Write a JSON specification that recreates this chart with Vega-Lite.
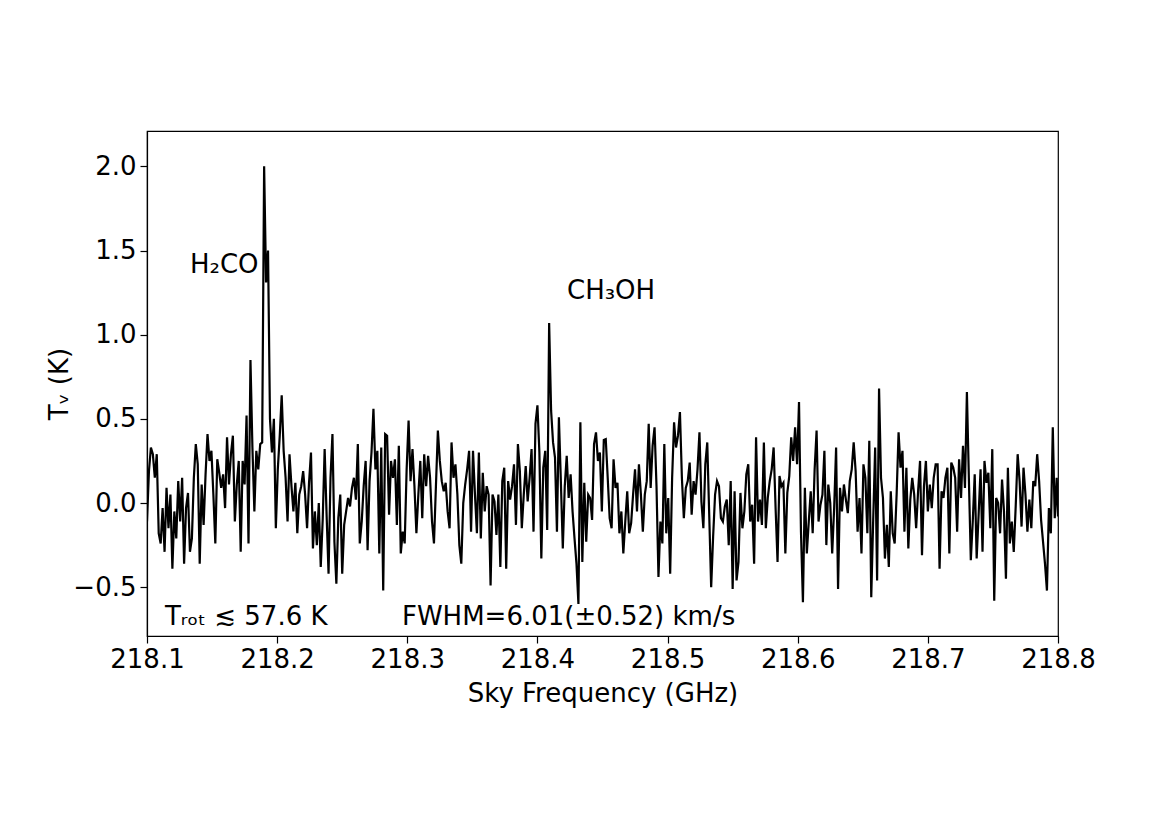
{
  "$schema": "https://vega.github.io/schema/vega-lite/v6.json",
  "width": 911,
  "height": 505,
  "autosize": {"type": "none"},
  "padding": {"left": 147, "top": 131, "right": 117, "bottom": 195},
  "background": "white",
  "config": {
    "font": "DejaVu Sans",
    "view": {"stroke": "black", "strokeWidth": 1.2},
    "axis": {
      "grid": false,
      "domainColor": "black",
      "domainWidth": 1.2,
      "tickColor": "black",
      "tickWidth": 1.2,
      "tickSize": 7,
      "labelColor": "black",
      "labelFont": "DejaVu Sans",
      "labelFontSize": 26,
      "titleFont": "DejaVu Sans",
      "titleFontSize": 26,
      "titleFontWeight": "normal",
      "titleColor": "black",
      "labelFlush": false,
      "labelOverlap": false,
      "labelBound": false
    }
  },
  "datasets": {
    "spec": [
{"f":218.1,"t":-0.11},{"f":218.1015,"t":0.19},{"f":218.103,"t":0.33},{"f":218.1045,"t":0.29},{"f":218.106,"t":0.15},{"f":218.1075,"t":0.29},{"f":218.109,"t":-0.18},{"f":218.1105,"t":-0.24},{"f":218.112,"t":-0.03},{"f":218.1135,"t":-0.29},
{"f":218.115,"t":0.09},{"f":218.1165,"t":-0.15},{"f":218.118,"t":0.05},{"f":218.1195,"t":-0.39},{"f":218.121,"t":-0.05},{"f":218.1225,"t":-0.21},{"f":218.124,"t":0.13},{"f":218.1255,"t":-0.11},{"f":218.127,"t":0.15},{"f":218.1285,"t":-0.36},
{"f":218.13,"t":-0.03},{"f":218.1315,"t":0.06},{"f":218.133,"t":-0.29},{"f":218.1345,"t":-0.21},{"f":218.136,"t":0.15},{"f":218.1375,"t":0.35},{"f":218.139,"t":0.23},{"f":218.1405,"t":-0.36},{"f":218.142,"t":0.11},{"f":218.1435,"t":-0.13},
{"f":218.145,"t":0.17},{"f":218.1465,"t":0.41},{"f":218.148,"t":0.25},{"f":218.1495,"t":0.31},{"f":218.151,"t":0.05},{"f":218.1525,"t":-0.24},{"f":218.154,"t":0.26},{"f":218.1555,"t":0.18},{"f":218.157,"t":0.09},{"f":218.1585,"t":0.17},
{"f":218.16,"t":-0.03},{"f":218.1615,"t":0.39},{"f":218.163,"t":0.11},{"f":218.1645,"t":0.29},{"f":218.166,"t":0.40},{"f":218.1675,"t":-0.11},{"f":218.169,"t":0.11},{"f":218.1705,"t":0.25},{"f":218.172,"t":-0.29},{"f":218.1735,"t":0.25},
{"f":218.175,"t":0.11},{"f":218.1765,"t":0.52},{"f":218.178,"t":-0.24},{"f":218.1795,"t":0.85},{"f":218.181,"t":0.33},{"f":218.1825,"t":-0.05},{"f":218.184,"t":0.31},{"f":218.1855,"t":0.20},{"f":218.187,"t":0.35},{"f":218.1885,"t":0.36},
{"f":218.19,"t":2.0},{"f":218.1915,"t":1.31},{"f":218.193,"t":1.5},{"f":218.1945,"t":0.50},{"f":218.196,"t":0.30},{"f":218.1975,"t":0.50},{"f":218.199,"t":-0.15},{"f":218.2005,"t":0.20},{"f":218.202,"t":0.40},{"f":218.2035,"t":0.64},
{"f":218.205,"t":0.31},{"f":218.2065,"t":0.15},{"f":218.208,"t":-0.11},{"f":218.2095,"t":0.29},{"f":218.211,"t":0.10},{"f":218.2125,"t":-0.05},{"f":218.214,"t":0.12},{"f":218.2155,"t":-0.18},{"f":218.217,"t":0.05},{"f":218.2185,"t":0.10},
{"f":218.22,"t":0.19},{"f":218.2215,"t":0.05},{"f":218.223,"t":-0.15},{"f":218.2245,"t":0.12},{"f":218.226,"t":0.30},{"f":218.2275,"t":-0.27},{"f":218.229,"t":-0.05},{"f":218.2305,"t":-0.25},{"f":218.232,"t":0.0},{"f":218.2335,"t":-0.38},
{"f":218.235,"t":-0.10},{"f":218.2365,"t":0.32},{"f":218.238,"t":-0.07},{"f":218.2395,"t":-0.42},{"f":218.241,"t":0.15},{"f":218.2425,"t":0.41},{"f":218.244,"t":-0.23},{"f":218.2455,"t":-0.48},{"f":218.247,"t":-0.09},{"f":218.2485,"t":0.05},
{"f":218.25,"t":-0.42},{"f":218.2515,"t":-0.13},{"f":218.253,"t":-0.05},{"f":218.2545,"t":0.03},{"f":218.256,"t":-0.02},{"f":218.2575,"t":0.09},{"f":218.259,"t":0.15},{"f":218.2605,"t":0.02},{"f":218.262,"t":0.35},{"f":218.2635,"t":-0.24},
{"f":218.265,"t":-0.11},{"f":218.2665,"t":0.10},{"f":218.268,"t":0.25},{"f":218.2695,"t":-0.28},{"f":218.271,"t":0.13},{"f":218.2725,"t":0.30},{"f":218.274,"t":0.56},{"f":218.2755,"t":0.20},{"f":218.277,"t":0.31},{"f":218.2785,"t":-0.30},
{"f":218.28,"t":0.33},{"f":218.2815,"t":-0.52},{"f":218.283,"t":0.41},{"f":218.2845,"t":0.40},{"f":218.286,"t":-0.07},{"f":218.2875,"t":0.25},{"f":218.289,"t":0.15},{"f":218.2905,"t":0.26},{"f":218.292,"t":-0.13},{"f":218.2935,"t":0.34},
{"f":218.295,"t":-0.30},{"f":218.2965,"t":-0.17},{"f":218.298,"t":-0.24},{"f":218.2995,"t":0.20},{"f":218.301,"t":0.49},{"f":218.3025,"t":0.13},{"f":218.304,"t":0.32},{"f":218.3055,"t":0.10},{"f":218.307,"t":-0.18},{"f":218.3085,"t":0.05},
{"f":218.31,"t":0.25},{"f":218.3115,"t":-0.09},{"f":218.313,"t":0.29},{"f":218.3145,"t":0.10},{"f":218.316,"t":0.28},{"f":218.3175,"t":0.15},{"f":218.319,"t":-0.11},{"f":218.3205,"t":-0.24},{"f":218.322,"t":0.10},{"f":218.3235,"t":0.43},
{"f":218.325,"t":0.25},{"f":218.3265,"t":0.13},{"f":218.328,"t":0.07},{"f":218.3295,"t":0.12},{"f":218.331,"t":-0.05},{"f":218.3325,"t":-0.15},{"f":218.334,"t":0.36},{"f":218.3355,"t":0.15},{"f":218.337,"t":0.23},{"f":218.3385,"t":0.05},
{"f":218.34,"t":-0.25},{"f":218.3415,"t":-0.36},{"f":218.343,"t":0.0},{"f":218.3445,"t":0.11},{"f":218.346,"t":0.20},{"f":218.3475,"t":0.31},{"f":218.349,"t":-0.17},{"f":218.3505,"t":0.31},{"f":218.352,"t":0.05},{"f":218.3535,"t":-0.18},
{"f":218.355,"t":0.30},{"f":218.3565,"t":-0.21},{"f":218.358,"t":0.18},{"f":218.3595,"t":-0.05},{"f":218.361,"t":0.10},{"f":218.3625,"t":0.05},{"f":218.364,"t":-0.49},{"f":218.3655,"t":0.05},{"f":218.367,"t":0.01},{"f":218.3685,"t":-0.19},
{"f":218.37,"t":0.05},{"f":218.3715,"t":-0.38},{"f":218.373,"t":0.13},{"f":218.3745,"t":0.21},{"f":218.376,"t":-0.39},{"f":218.3775,"t":0.13},{"f":218.379,"t":0.02},{"f":218.3805,"t":0.10},{"f":218.382,"t":0.23},{"f":218.3835,"t":-0.13},
{"f":218.385,"t":0.35},{"f":218.3865,"t":0.19},{"f":218.388,"t":-0.15},{"f":218.3895,"t":0.05},{"f":218.391,"t":0.22},{"f":218.3925,"t":0.01},{"f":218.394,"t":0.15},{"f":218.3955,"t":0.32},{"f":218.397,"t":-0.17},{"f":218.3985,"t":0.47},
{"f":218.4,"t":0.58},{"f":218.4015,"t":0.30},{"f":218.403,"t":-0.33},{"f":218.4045,"t":0.21},{"f":218.406,"t":0.31},{"f":218.4075,"t":-0.16},{"f":218.409,"t":1.07},{"f":218.4105,"t":0.55},{"f":218.412,"t":0.36},{"f":218.4135,"t":0.27},
{"f":218.415,"t":-0.17},{"f":218.4165,"t":0.51},{"f":218.418,"t":0.13},{"f":218.4195,"t":-0.27},{"f":218.421,"t":0.10},{"f":218.4225,"t":0.28},{"f":218.424,"t":0.03},{"f":218.4255,"t":0.17},{"f":218.427,"t":-0.05},{"f":218.4285,"t":-0.21},
{"f":218.43,"t":-0.36},{"f":218.4315,"t":-0.60},{"f":218.433,"t":0.48},{"f":218.4345,"t":-0.35},{"f":218.436,"t":0.12},{"f":218.4375,"t":-0.23},{"f":218.439,"t":0.05},{"f":218.4405,"t":0.03},{"f":218.442,"t":-0.10},{"f":218.4435,"t":0.35},
{"f":218.445,"t":0.42},{"f":218.4465,"t":0.25},{"f":218.448,"t":0.30},{"f":218.4495,"t":-0.05},{"f":218.451,"t":0.375},{"f":218.4525,"t":0.38},{"f":218.454,"t":0.15},{"f":218.4555,"t":-0.09},{"f":218.457,"t":-0.15},{"f":218.4585,"t":0.26},
{"f":218.46,"t":0.09},{"f":218.4615,"t":0.12},{"f":218.463,"t":-0.18},{"f":218.4645,"t":-0.05},{"f":218.466,"t":-0.30},{"f":218.4675,"t":-0.11},{"f":218.469,"t":0.07},{"f":218.4705,"t":-0.18},{"f":218.472,"t":-0.12},{"f":218.4735,"t":0.05},
{"f":218.475,"t":0.20},{"f":218.4765,"t":-0.05},{"f":218.478,"t":0.23},{"f":218.4795,"t":0.05},{"f":218.481,"t":-0.17},{"f":218.4825,"t":0.05},{"f":218.484,"t":0.13},{"f":218.4855,"t":0.47},{"f":218.487,"t":0.09},{"f":218.4885,"t":0.34},
{"f":218.49,"t":0.45},{"f":218.4915,"t":0.10},{"f":218.493,"t":-0.44},{"f":218.4945,"t":-0.11},{"f":218.496,"t":-0.24},{"f":218.4975,"t":0.35},{"f":218.499,"t":-0.18},{"f":218.5005,"t":0.03},{"f":218.502,"t":-0.42},{"f":218.5035,"t":0.15},
{"f":218.505,"t":0.48},{"f":218.5065,"t":0.33},{"f":218.508,"t":0.40},{"f":218.5095,"t":0.54},{"f":218.511,"t":0.15},{"f":218.5125,"t":-0.09},{"f":218.514,"t":0.09},{"f":218.5155,"t":0.13},{"f":218.517,"t":0.24},{"f":218.5185,"t":-0.07},
{"f":218.52,"t":0.13},{"f":218.5215,"t":0.05},{"f":218.523,"t":0.20},{"f":218.5245,"t":0.42},{"f":218.526,"t":0.01},{"f":218.5275,"t":-0.15},{"f":218.529,"t":0.23},{"f":218.5305,"t":0.36},{"f":218.532,"t":-0.07},{"f":218.5335,"t":-0.50},
{"f":218.535,"t":-0.20},{"f":218.5365,"t":0.05},{"f":218.538,"t":0.13},{"f":218.5395,"t":0.10},{"f":218.541,"t":-0.09},{"f":218.5425,"t":-0.11},{"f":218.544,"t":-0.02},{"f":218.5455,"t":0.02},{"f":218.547,"t":-0.25},{"f":218.5485,"t":0.13},
{"f":218.55,"t":-0.51},{"f":218.5515,"t":0.07},{"f":218.553,"t":-0.46},{"f":218.5545,"t":-0.35},{"f":218.556,"t":0.06},{"f":218.5575,"t":-0.15},{"f":218.559,"t":-0.05},{"f":218.5605,"t":0.17},{"f":218.562,"t":0.23},{"f":218.5635,"t":-0.11},
{"f":218.565,"t":-0.01},{"f":218.5665,"t":-0.36},{"f":218.568,"t":0.39},{"f":218.5695,"t":-0.11},{"f":218.571,"t":0.02},{"f":218.5725,"t":-0.13},{"f":218.574,"t":0.36},{"f":218.5755,"t":-0.15},{"f":218.577,"t":0.03},{"f":218.5785,"t":0.13},
{"f":218.58,"t":0.20},{"f":218.5815,"t":0.33},{"f":218.583,"t":-0.03},{"f":218.5845,"t":-0.35},{"f":218.586,"t":0.16},{"f":218.5875,"t":0.10},{"f":218.589,"t":0.12},{"f":218.5905,"t":-0.30},{"f":218.592,"t":0.06},{"f":218.5935,"t":0.16},
{"f":218.595,"t":0.39},{"f":218.5965,"t":0.25},{"f":218.598,"t":0.45},{"f":218.5995,"t":0.23},{"f":218.601,"t":0.60},{"f":218.6025,"t":-0.17},{"f":218.604,"t":-0.59},{"f":218.6055,"t":0.09},{"f":218.607,"t":-0.30},{"f":218.6085,"t":-0.11},
{"f":218.61,"t":0.07},{"f":218.6115,"t":-0.18},{"f":218.613,"t":0.20},{"f":218.6145,"t":0.43},{"f":218.616,"t":-0.11},{"f":218.6175,"t":-0.01},{"f":218.619,"t":0.05},{"f":218.6205,"t":0.31},{"f":218.622,"t":-0.25},{"f":218.6235,"t":0.11},
{"f":218.625,"t":0.0},{"f":218.6265,"t":-0.30},{"f":218.628,"t":-0.03},{"f":218.6295,"t":0.33},{"f":218.631,"t":-0.51},{"f":218.6325,"t":0.09},{"f":218.634,"t":-0.05},{"f":218.6355,"t":0.11},{"f":218.637,"t":0.02},{"f":218.6385,"t":-0.06},
{"f":218.64,"t":0.13},{"f":218.6415,"t":0.20},{"f":218.643,"t":0.36},{"f":218.6445,"t":0.19},{"f":218.646,"t":-0.17},{"f":218.6475,"t":0.03},{"f":218.649,"t":-0.30},{"f":218.6505,"t":0.23},{"f":218.652,"t":0.15},{"f":218.6535,"t":-0.18},
{"f":218.655,"t":0.37},{"f":218.6565,"t":-0.56},{"f":218.658,"t":-0.10},{"f":218.6595,"t":0.33},{"f":218.661,"t":-0.46},{"f":218.6625,"t":0.68},{"f":218.664,"t":0.15},{"f":218.6655,"t":0.03},{"f":218.667,"t":-0.33},{"f":218.6685,"t":-0.13},
{"f":218.67,"t":-0.38},{"f":218.6715,"t":0.07},{"f":218.673,"t":-0.18},{"f":218.6745,"t":-0.24},{"f":218.676,"t":0.05},{"f":218.6775,"t":0.42},{"f":218.679,"t":0.21},{"f":218.6805,"t":0.31},{"f":218.682,"t":-0.17},{"f":218.6835,"t":0.21},
{"f":218.685,"t":-0.27},{"f":218.6865,"t":0.02},{"f":218.688,"t":0.15},{"f":218.6895,"t":0.05},{"f":218.691,"t":-0.15},{"f":218.6925,"t":0.07},{"f":218.694,"t":0.25},{"f":218.6955,"t":-0.31},{"f":218.697,"t":0.10},{"f":218.6985,"t":0.25},
{"f":218.7,"t":-0.05},{"f":218.7015,"t":0.11},{"f":218.703,"t":-0.03},{"f":218.7045,"t":0.15},{"f":218.706,"t":0.23},{"f":218.7075,"t":0.23},{"f":218.709,"t":-0.39},{"f":218.7105,"t":0.07},{"f":218.712,"t":0.03},{"f":218.7135,"t":0.15},
{"f":218.715,"t":0.21},{"f":218.7165,"t":-0.30},{"f":218.718,"t":0.24},{"f":218.7195,"t":0.21},{"f":218.721,"t":0.15},{"f":218.7225,"t":-0.17},{"f":218.724,"t":0.26},{"f":218.7255,"t":0.03},{"f":218.727,"t":0.34},{"f":218.7285,"t":0.09},
{"f":218.73,"t":0.66},{"f":218.7315,"t":0.15},{"f":218.733,"t":-0.34},{"f":218.7345,"t":-0.11},{"f":218.736,"t":0.17},{"f":218.7375,"t":-0.33},{"f":218.739,"t":-0.07},{"f":218.7405,"t":0.20},{"f":218.742,"t":-0.29},{"f":218.7435,"t":0.25},
{"f":218.745,"t":0.12},{"f":218.7465,"t":0.18},{"f":218.748,"t":-0.15},{"f":218.7495,"t":0.32},{"f":218.751,"t":-0.58},{"f":218.7525,"t":0.03},{"f":218.754,"t":0.0},{"f":218.7555,"t":-0.18},{"f":218.757,"t":0.14},{"f":218.7585,"t":-0.05},
{"f":218.76,"t":-0.45},{"f":218.7615,"t":0.21},{"f":218.763,"t":-0.24},{"f":218.7645,"t":-0.11},{"f":218.766,"t":-0.29},{"f":218.7675,"t":-0.02},{"f":218.769,"t":0.29},{"f":218.7705,"t":0.13},{"f":218.772,"t":-0.14},{"f":218.7735,"t":0.21},
{"f":218.775,"t":0.05},{"f":218.7765,"t":-0.17},{"f":218.778,"t":0.02},{"f":218.7795,"t":-0.15},{"f":218.781,"t":0.13},{"f":218.7825,"t":0.10},{"f":218.784,"t":0.29},{"f":218.7855,"t":0.13},{"f":218.787,"t":-0.10},{"f":218.7885,"t":-0.23},
{"f":218.79,"t":-0.36},{"f":218.7915,"t":-0.52},{"f":218.793,"t":-0.03},{"f":218.7945,"t":-0.18},{"f":218.796,"t":0.45},{"f":218.7975,"t":-0.09},{"f":218.799,"t":0.15},{"f":218.8,"t":-0.08}
    ],
    "labels": [
      {"f": 218.133, "t": 1.365, "label": "H₂CO"},
      {"f": 218.4227, "t": 1.214, "label": "CH₃OH"},
      {"f": 218.1138, "t": -0.724, "label": "Tᵣₒₜ ≲ 57.6 K"},
      {"f": 218.2959, "t": -0.724, "label": "FWHM=6.01(±0.52) km/s"}
    ]
  },
  "layer": [
    {
      "data": {"name": "spec"},
      "mark": {"type": "line", "color": "black", "strokeWidth": 2.2, "clip": true},
      "encoding": {
        "x": {
          "field": "f",
          "type": "quantitative",
          "scale": {"domain": [218.1, 218.8], "nice": false, "zero": false},
          "axis": {
            "title": "Sky Frequency (GHz)",
            "values": [218.1, 218.2, 218.3, 218.4, 218.5, 218.6, 218.7, 218.8],
            "format": ".1f",
            "labelPadding": 3,
            "titlePadding": 8
          }
        },
        "y": {
          "field": "t",
          "type": "quantitative",
          "scale": {"domain": [-0.79, 2.21], "nice": false, "zero": false},
          "axis": {
            "title": "Tᵥ (K)",
            "values": [-0.5, 0, 0.5, 1, 1.5, 2],
            "format": ".1f",
            "labelPadding": 4,
            "titlePadding": 0
          }
        }
      }
    },
    {
      "data": {"name": "labels"},
      "mark": {"type": "text", "align": "left", "baseline": "alphabetic", "fontSize": 26, "font": "DejaVu Sans", "color": "black"},
      "encoding": {
        "x": {"field": "f", "type": "quantitative"},
        "y": {"field": "t", "type": "quantitative"},
        "text": {"field": "label"}
      }
    }
  ]
}
